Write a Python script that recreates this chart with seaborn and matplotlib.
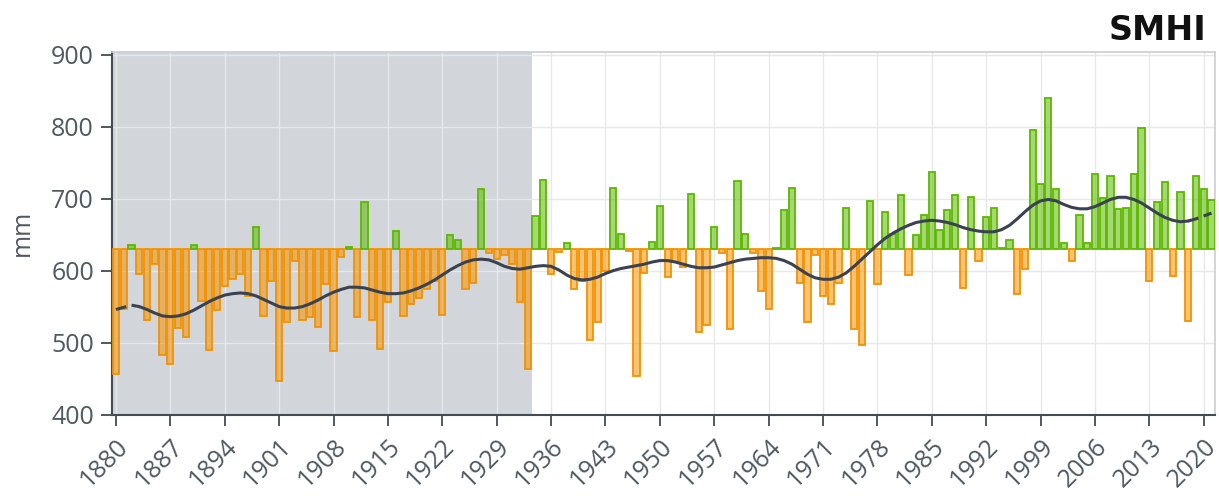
import matplotlib
matplotlib.use('Agg')
import numpy as np
import pandas as pd
import seaborn as sns
from matplotlib import pyplot as plt

years = list(range(1880, 2022))
precip = [
    456, 547, 635, 595, 531, 609, 483, 470, 520, 508,   # 1880-1889
    635, 558, 489, 545, 579, 588, 595, 565, 660, 537,   # 1890-1899
    586, 446, 528, 614, 532, 535, 521, 581, 488, 619,   # 1900-1909
    633, 535, 696, 532, 491, 556, 655, 537, 554, 562,   # 1910-1919
    575, 585, 539, 649, 643, 574, 583, 713, 624, 616,   # 1920-1929
    622, 609, 556, 463, 676, 726, 596, 626, 638, 574,   # 1930-1939
    586, 503, 528, 600, 715, 651, 627, 453, 597, 640,   # 1940-1949
    690, 591, 612, 605, 707, 515, 524, 660, 624, 519,   # 1950-1959
    725, 651, 624, 572, 546, 632, 684, 715, 583, 528,   # 1960-1969
    622, 565, 553, 583, 687, 519, 496, 697, 582, 681,   # 1970-1979
    651, 705, 594, 649, 677, 737, 656, 684, 705, 576,   # 1980-1989
    702, 614, 674, 687, 632, 643, 568, 602, 796, 720,   # 1990-1999
    840, 714, 639, 613, 678, 639, 734, 701, 732, 686,   # 2000-2009
    687, 735, 798, 586, 695, 723, 593, 709, 530, 731,   # 2010-2019
    713, 698,                                           # 2020-2021
]
trend = [
    546, 549, 552, 550, 546, 541, 537, 536, 537, 540,
    545, 551, 557, 562, 566, 568, 569, 568, 565, 560,
    555, 550, 548, 548, 550, 554, 559, 565, 570, 574,
    577, 577, 576, 573, 570, 568, 568, 569, 572, 576,
    581, 587, 594, 601, 607, 612, 615, 616, 615, 611,
    606, 603, 602, 604, 606, 607, 606, 601, 594, 589,
    587, 588, 591, 596, 600, 603, 605, 607, 609, 612,
    614, 614, 612, 609, 606, 604, 604, 605, 608, 611,
    614, 616, 617, 618, 618, 617, 614, 609, 602, 595,
    590, 588, 588, 591, 597, 606, 616, 626, 636, 645,
    652, 658, 663, 667, 669, 670, 669, 667, 664, 660,
    657, 655, 654, 654, 657, 663, 672, 682, 691, 697,
    699, 697, 692, 688, 686, 686, 689, 694, 699, 702,
    702, 699, 694, 687, 680, 674, 670, 668, 669, 672,
    676, 680,
]
baseline = 630
xticks = list(range(1880, 2021, 7))
yticks = [400, 500, 600, 700, 800, 900]
shade_end = 1933.5

df = pd.DataFrame({'year': years, 'mm': precip, 'trend': trend})
df['above'] = df['mm'] >= baseline

sns.set_theme(style='white')
plt.rcParams['font.family'] = ['Open Sans', 'DejaVu Sans']

fig = plt.figure(figsize=(12.19, 4.96), dpi=100)
ax = fig.add_axes([112 / 1219, 1 - 414.5 / 496, 1103 / 1219, 362.5 / 496])

ax.axvspan(1879.49, shade_end, color='#d2d6db', zorder=0, lw=0)

orange = '#f39200'
green = '#5cb800'
for above, sub in df.groupby('above'):
    col = green if above else orange
    ax.bar(sub['year'], sub['mm'] - baseline, bottom=baseline, width=0.8,
           facecolor=matplotlib.colors.to_rgba(col, 0.55), edgecolor=col,
           linewidth=1.3, zorder=3)

line_col = '#3a4252'
head = df[df['year'] <= 1883]
body = df[(df['year'] >= 1883) & (df['year'] <= 2018)]
tail = df[df['year'] >= 2018]
sns.lineplot(data=body, x='year', y='trend', ax=ax, color=line_col, lw=2.2, zorder=4)
for seg in (head, tail):
    sns.lineplot(data=seg, x='year', y='trend', ax=ax, color=line_col, lw=2.2,
                 linestyle=(0, (3.5, 1.8)), zorder=4)

ax.set_xlim(1879.49, 2021.45)
ax.set_ylim(400, 904)
ax.set_xticks(xticks)
ax.set_yticks(yticks)
ax.set_xticklabels([str(t) for t in xticks], rotation=45, ha='right',
                   va='top', rotation_mode='anchor')
ax.grid(True, color='#e6e9ec', lw=1, zorder=1)
ax.set_axisbelow(True)
for g in ax.get_xgridlines() + ax.get_ygridlines():
    g.set_zorder(1)

ax.tick_params(axis='both', which='both', direction='out', length=8, width=1.3,
               color='#444b52', labelsize=18, labelcolor='#505860', pad=5,
               bottom=True, left=True)
ax.tick_params(axis='x', pad=6)
for s in ('left', 'bottom'):
    ax.spines[s].set_color('#444b52')
    ax.spines[s].set_linewidth(1.5)
for s in ('top', 'right'):
    ax.spines[s].set_color('#c9cdd2')
    ax.spines[s].set_linewidth(1.2)

ax.set_xlabel('')
ax.set_ylabel('mm', fontsize=18, color='#505860', labelpad=12)

fig.text(1206 / 1219, 1 - 31 / 496, 'SMHI', ha='right', va='center',
         fontsize=24, fontweight='heavy', color='#111111',
         family=['DejaVu Sans'])

fig.savefig('out.png', dpi=100)
